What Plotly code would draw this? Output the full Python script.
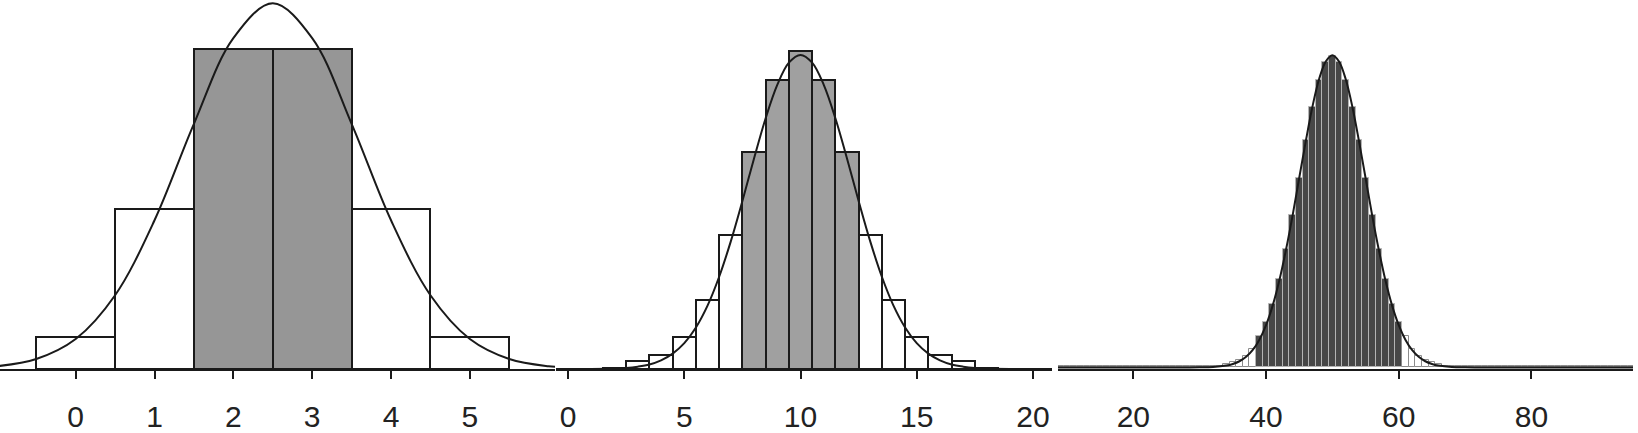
import plotly.graph_objects as go

# --- panel 1: n = 5 --------------------------------------------------------
k1 = [0, 1, 2, 3, 4, 5]
p1 = [0.031, 0.156, 0.312, 0.312, 0.156, 0.031]
shade1 = (2, 3)
cx1 = [-1.0, -0.5, 0.0, 0.5, 1.0, 1.5, 2.0, 2.5, 3.0, 3.5, 4.0, 4.5, 5.0, 5.5, 6.0, 6.5]
cy1 = [0.0027, 0.0098, 0.0293, 0.0720, 0.1451, 0.2392, 0.3228, 0.3568,
       0.3228, 0.2392, 0.1451, 0.0720, 0.0293, 0.0098, 0.0027, 0.0006]
ticks1 = [0, 1, 2, 3, 4, 5]

# --- panel 2: n = 20 -------------------------------------------------------
k2 = list(range(0, 21))
p2 = [0.0, 0.0, 0.0006, 0.0045, 0.0078, 0.0175, 0.038, 0.0745, 0.120, 0.160, 0.176,
      0.160, 0.120, 0.0745, 0.038, 0.0175, 0.0078, 0.0045, 0.0006, 0.0, 0.0]
shade2 = (8, 12)
cx2 = [-1.0, 1.0, 2.0, 2.5, 3.0, 3.5, 4.0, 4.5, 5.0, 5.5, 6.0, 6.5, 7.0, 7.5, 8.0, 8.5,
       9.0, 9.5, 10.0, 10.5, 11.0, 11.5, 12.0, 12.5, 13.0, 13.5, 14.0, 14.5, 15.0, 15.5,
       16.0, 16.5, 17.0, 17.5, 18.0, 19.0, 21.0]
cy2 = [0.0, 0.00005, 0.0003, 0.0006, 0.0013, 0.0025, 0.0048, 0.0085, 0.0143, 0.0230,
       0.0351, 0.0511, 0.0707, 0.0931, 0.1166, 0.1389, 0.1574, 0.1697, 0.1740, 0.1697,
       0.1574, 0.1389, 0.1166, 0.0931, 0.0707, 0.0511, 0.0351, 0.0230, 0.0143, 0.0085,
       0.0048, 0.0025, 0.0013, 0.0006, 0.0003, 0.00005, 0.0]
ticks2 = [0, 5, 10, 15, 20]

# --- panel 3: n = 100 ------------------------------------------------------
k3 = list(range(9, 96))
tail3 = [0.0003] * 25                      # k = 9..33, flat on the baseline
mid3 = [0.0010, 0.0015, 0.0020, 0.0029, 0.0047, 0.0080, 0.0115, 0.0162, 0.0225,
        0.0302, 0.0390, 0.0485, 0.0580, 0.0666, 0.0735, 0.0780, 0.0796,
        0.0780, 0.0735, 0.0666, 0.0580, 0.0485, 0.0390, 0.0302, 0.0225, 0.0162,
        0.0115, 0.0080, 0.0047, 0.0029, 0.0020, 0.0015, 0.0010]   # k = 34..66
p3 = tail3 + mid3 + [0.0003] * 29          # k = 67..95
shade3 = (39, 60)
cx3 = [5, 28, 30, 32, 34, 35, 36, 37, 38, 39, 40, 41, 42, 43, 44, 45, 46, 47, 48, 49,
       50, 51, 52, 53, 54, 55, 56, 57, 58, 59, 60, 61, 62, 63, 64, 65, 66, 68, 70, 72, 100]
cy3 = [0.0, 0.00001, 0.00003, 0.00012, 0.00048, 0.00089, 0.00158, 0.00272, 0.00448,
       0.0071, 0.0108, 0.0158, 0.0222, 0.0300, 0.0388, 0.0484, 0.0579, 0.0667, 0.0737,
       0.0782, 0.0798, 0.0782, 0.0737, 0.0667, 0.0579, 0.0484, 0.0388, 0.0300, 0.0222,
       0.0158, 0.0108, 0.0071, 0.00448, 0.00272, 0.00158, 0.00089, 0.00048, 0.00012,
       0.00003, 0.00001, 0.0]
ticks3 = [20, 40, 60, 80]

INK = "#1a1a1a"
FONT = dict(family="Liberation Sans, Arial, Helvetica, sans-serif", size=30, color="#222222")

fig = go.Figure()


def add_panel(n, ks, ps, shade, cx, cy, fill, edge, edge_w, fill_out="white", edge_out=None):
    xa = "x" if n == 1 else f"x{n}"
    ya = "y" if n == 1 else f"y{n}"
    inside = [shade[0] <= k <= shade[1] for k in ks]
    fig.add_trace(go.Bar(
        x=ks, y=ps, width=1, xaxis=xa, yaxis=ya, showlegend=False,
        marker=dict(color=[fill if s else fill_out for s in inside],
                    line=dict(color=[edge if s else (edge_out or edge) for s in inside],
                              width=edge_w))))
    fig.add_trace(go.Scatter(
        x=cx, y=cy, mode="lines", xaxis=xa, yaxis=ya, showlegend=False,
        line=dict(color=INK, width=2, shape="spline"), hoverinfo="skip"))


add_panel(1, k1, p1, shade1, cx1, cy1, "#969696", INK, 2)
add_panel(2, k2, p2, shade2, cx2, cy2, "#a0a0a0", INK, 2)
add_panel(3, k3, p3, shade3, cx3, cy3, "#474747", "#b4b4b4", 1, edge_out="#8c8c8c")

axis_common = dict(showline=True, linecolor=INK, linewidth=2, ticks="outside",
                   ticklen=8, tickwidth=2, tickcolor=INK, showgrid=False,
                   zeroline=False, tickfont=FONT, ticklabelstandoff=12)

W = 1638.0
fig.update_layout(
    width=1638, height=433,
    margin=dict(l=0, r=0, t=0, b=56),
    plot_bgcolor="white", paper_bgcolor="white",
    bargap=0,
    xaxis=dict(domain=[0, 555 / W], range=[-0.96, 6.08], tickvals=ticks1,
               anchor="y", **axis_common),
    xaxis2=dict(domain=[556 / W, 1052 / W], range=[-0.52, 20.82], tickvals=ticks2,
                anchor="y2", **axis_common),
    xaxis3=dict(domain=[1058 / W, 1633 / W], range=[8.65, 95.3], tickvals=ticks3,
                anchor="y3", **axis_common),
    yaxis=dict(domain=[0, 1], range=[0, 0.36], visible=False),
    yaxis2=dict(domain=[0, 1], range=[0, 0.2044], visible=False),
    yaxis3=dict(domain=[0, 1], range=[-0.0004, 0.0939], visible=False),
)

# drop the browser's default 8px body margin so the figure sits at the page corner
fig.write_html("out.html", config={"displayModeBar": False},
               post_script="document.body.style.margin='0';document.body.style.overflow='hidden';")
